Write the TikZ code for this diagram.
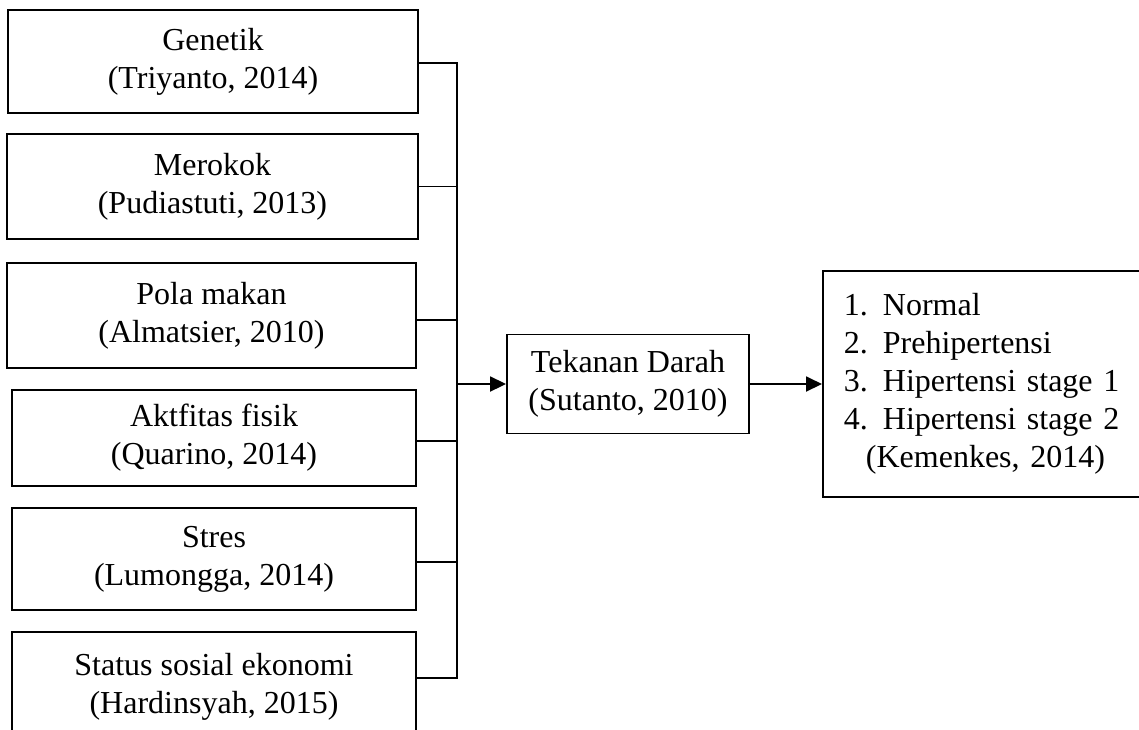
\documentclass[tikz,border=0pt]{standalone}
\usepackage{fontspec}
\setmainfont{Liberation Serif}
\usetikzlibrary{arrows.meta}
\begin{document}
\begin{tikzpicture}[x=1pt,y=-1pt,
  box/.style={draw, line width=1.9pt, inner sep=0pt, align=center, font=\fontsize{32}{38}\selectfont},
  link/.style={line width=1.9pt},
  arr/.style={line width=1.9pt, -{Triangle[length=16pt,width=15pt]}}]
\clip (0,0) rectangle (1139,729);
\fill[white] (0,0) rectangle (1139,729);
% left factor boxes
\node[box, minimum width=410pt, minimum height=103pt] (b1) at (213,61.5) {Genetik\\(Triyanto, 2014)};
\node[box, minimum width=411pt, minimum height=105pt] (b2) at (212.5,186.5) {Merokok\\(Pudiastuti, 2013)};
\node[box, minimum width=409pt, minimum height=105pt] (b3) at (211.5,315.5) {Pola makan\\(Almatsier, 2010)};
\node[box, minimum width=404pt, minimum height=96pt] (b4) at (214,438) {Aktfitas fisik\\(Quarino, 2014)};
\node[box, minimum width=404pt, minimum height=102pt] (b5) at (214,559) {Stres\\(Lumongga, 2014)};
\node[box, minimum width=404pt, minimum height=110pt] (b6) at (214,687) {Status sosial ekonomi\\(Hardinsyah, 2015)};
% middle and output boxes
\node[box, minimum width=242pt, minimum height=99pt] (td) at (628,384) {Tekanan Darah\\(Sutanto, 2010)};
\node[box, anchor=north west, minimum width=330pt, minimum height=226pt, text width=288pt, inner xsep=21pt, align=left] (out) at (822,270)
  {\makebox[39pt][l]{1.}Normal\\
   \makebox[39pt][l]{2.}Prehipertensi\\
   \makebox[39pt][l]{3.}Hipertensi stage 1\\
   \makebox[39pt][l]{4.}Hipertensi stage 2\\
   \hspace*{22pt}(Kemenkes, 2014)};
% bus
\coordinate (jn) at (457,384);
\draw[link] ([yshift=-1.5pt]b1.east) -| (jn);
\draw[link] (b2.east) -| (jn);
\draw[link] ([yshift=-4.5pt]b3.east) -| (jn);
\draw[link] ([yshift=-3pt]b4.east) -| (jn);
\draw[link] ([yshift=-3pt]b5.east) -| (jn);
\draw[link] ([yshift=9pt]b6.east) -| (jn);
\draw[arr] (jn) -- (td.west);
\draw[arr] (td.east) -- (td.east -| out.west);
\end{tikzpicture}
\end{document}
